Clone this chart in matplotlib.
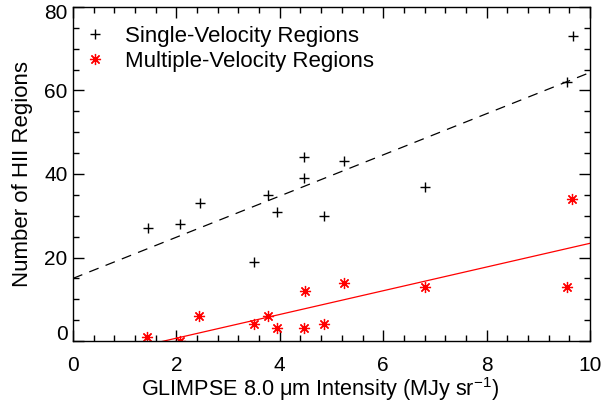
import matplotlib
matplotlib.use('Agg')
import matplotlib.pyplot as plt
import numpy as np
from matplotlib.ticker import MultipleLocator, FuncFormatter
from matplotlib.transforms import ScaledTranslation

plt.rcParams['font.family'] = ['Liberation Sans', 'DejaVu Sans']
plt.rcParams['mathtext.fontset'] = 'custom'
plt.rcParams['mathtext.rm'] = 'Liberation Sans'
plt.rcParams['mathtext.it'] = 'Liberation Sans'

# single-velocity regions
single_x = [1.45, 2.06, 2.45, 3.51, 3.77, 3.95, 4.47, 4.47, 4.86, 5.24, 6.81, 9.56, 9.67]
single_y = [27, 28, 33, 19, 35, 31, 44, 39, 30, 43, 37, 62, 73]

# multiple-velocity regions
multi_x = [1.44, 2.06, 2.44, 3.51, 3.78, 3.95, 4.49, 4.47, 4.86, 5.25, 6.80, 9.55, 9.66]
multi_y = [1, 0, 6, 4, 6, 3, 12, 3, 4, 14, 13, 13, 34]

# linear fits (intercept, slope)
single_fit = (15.0, 4.93)
multi_fit = (-5.0, 2.84)

fig = plt.figure(figsize=(6.02, 4.01), dpi=100)
ax = fig.add_axes([0.1213, 0.1496, 0.8587, 0.833])

xx = np.array([0, 10])
ax.plot(xx, single_fit[0] + single_fit[1] * xx, color='black', lw=0.9,
        dashes=(8, 6))
ax.plot(xx, multi_fit[0] + multi_fit[1] * xx, color='red', lw=0.9)

ax.plot(single_x, single_y, ls='none', marker='+', ms=7, mew=1.0,
        color='black', label='Single-Velocity Regions')
ax.plot(multi_x, multi_y, ls='none', marker=(8, 2, 0), ms=8, mew=0.9,
        color='red', label='Multiple-Velocity Regions')

ymin, ymax = 0, 80
ax.set_xlim(0, 10)
ax.set_ylim(ymin, ymax)
ax.xaxis.set_major_locator(MultipleLocator(2))
ax.xaxis.set_minor_locator(MultipleLocator(0.4))
ax.yaxis.set_major_locator(MultipleLocator(20))
ax.yaxis.set_minor_locator(MultipleLocator(5))
# end labels of the y axis are drawn separately, nudged inside the frame
ax.yaxis.set_major_formatter(
    FuncFormatter(lambda v, p: '' if v in (ymin, ymax) else '%d' % v))
ax.tick_params(which='both', direction='in', top=True, right=True,
               labelsize=15, width=1)
ax.tick_params(which='major', length=8)
ax.tick_params(axis='x', which='major', pad=11)
ax.tick_params(axis='y', which='major', pad=4)
ax.tick_params(which='minor', length=4)
for s in ax.spines.values():
    s.set_linewidth(1)

ytrans = ax.get_yaxis_transform()
for v, dy in ((ymin, 5), (ymax, -5)):
    off = ScaledTranslation(-4 / 72, dy / 72, fig.dpi_scale_trans)
    ax.text(0, v, '%d' % v, transform=ytrans + off, ha='right', va='center',
            fontsize=15)

ax.set_xlabel(r'GLIMPSE 8.0 $\mu$m Intensity (MJy sr$^{-1}$)', fontsize=15.6,
              labelpad=0)
ax.xaxis.label.set_x(0.477)
ax.set_ylabel('Number of HII Regions', fontsize=16, labelpad=8)

ax.legend(loc='upper left', bbox_to_anchor=(-0.006, 0.987), frameon=False,
          fontsize=16, handlelength=1.0, handletextpad=0.85,
          borderaxespad=0.25, labelspacing=0.2, borderpad=0.4)

fig.savefig('out.png', dpi=100)
